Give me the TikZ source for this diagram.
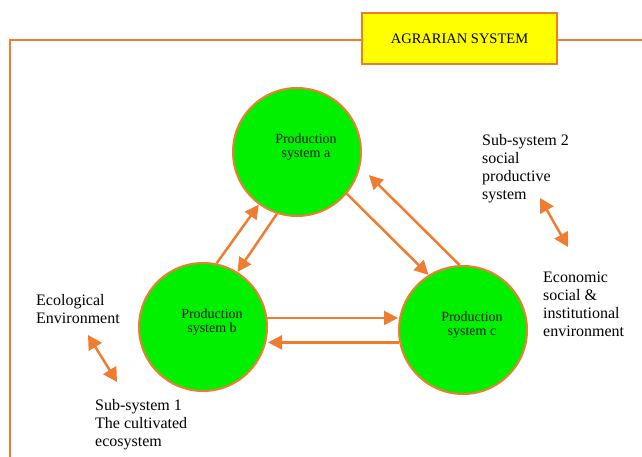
\documentclass[tikz,border=0pt]{standalone}
\usepackage{fontspec}
\setmainfont{Liberation Serif}
\usetikzlibrary{positioning, arrows.meta}
\definecolor{linkorange}{RGB}{238,125,49}
\definecolor{prodgreen}{RGB}{0,240,0}
\definecolor{titleyellow}{RGB}{255,255,0}

\begin{document}
\begin{tikzpicture}[x=1pt, y=-1pt,
    prod/.style={circle, draw=linkorange, line width=2pt, fill=prodgreen, minimum size=128pt, inner sep=0pt},
    prodtext/.style={align=center, inner sep=0pt, text=black!90, font=\fontsize{14}{14}\selectfont},
    flow/.style={draw=linkorange, line width=2.5pt, -{Triangle[length=14pt,width=14pt]}},
    twoway/.style={draw=linkorange, line width=2.5pt, {Triangle[length=14pt,width=15pt]}-{Triangle[length=14pt,width=15pt]}},
    side/.style={align=left, anchor=north west, inner sep=0pt, font=\fontsize{16}{18}\selectfont}]
  \useasboundingbox (0,0) rectangle (642,457);

  % Draw outer frame and title
  \draw[linkorange, line width=2.8pt] (642,40) -- (10,40) -- (10,457);
  \node[draw=linkorange, line width=2pt, fill=titleyellow, minimum width=195pt, minimum height=51pt,
        font=\fontsize{14.5}{15}\selectfont] (title) at (459.5,38.5) {AGRARIAN SYSTEM};

  % Production systems
  \foreach \n/\x/\y in {a/297/152, b/203/327, c/463/330} {
    \node[prod] (\n) at (\x,\y) {};
    \node[prodtext] (\n-text) at ([shift={(9,-5)}]\n.center) {Production\\system \n};
  }

  % Flows between systems
  \draw[flow] (b.78) -- (a.234);
  \draw[flow] (a.252) -- (b.58);
  \draw[flow] (a.320) -- (c.122);
  \draw[flow, shorten >=12pt] (c.93) -- (a.347);
  \draw[flow] (b.8) -- (b.8 -| c.west);
  \draw[flow] (c.191) -- (c.191 -| b.east);

  % Sub-systems and environments
  \node[side] (eco) at (36,294) {Ecological\\Environment};
  \node[side] (sub1) at (95,399.5) {Sub-system 1\\The cultivated\\ecosystem};
  \node[side] (sub2) at (482,134.5) {Sub-system 2\\social\\productive\\system};
  \node[side] (econ) at (543,271.5) {Economic\\social \&\\institutional\\environment};

  \coordinate (eco-end) at (88,335);
  \coordinate (sub1-end) at (117,382);
  \coordinate (sub2-end) at (540,198);
  \coordinate (econ-end) at (568,247);
  \draw[twoway] (eco-end) -- (sub1-end);
  \draw[twoway] (sub2-end) -- (econ-end);
\end{tikzpicture}
\end{document}
